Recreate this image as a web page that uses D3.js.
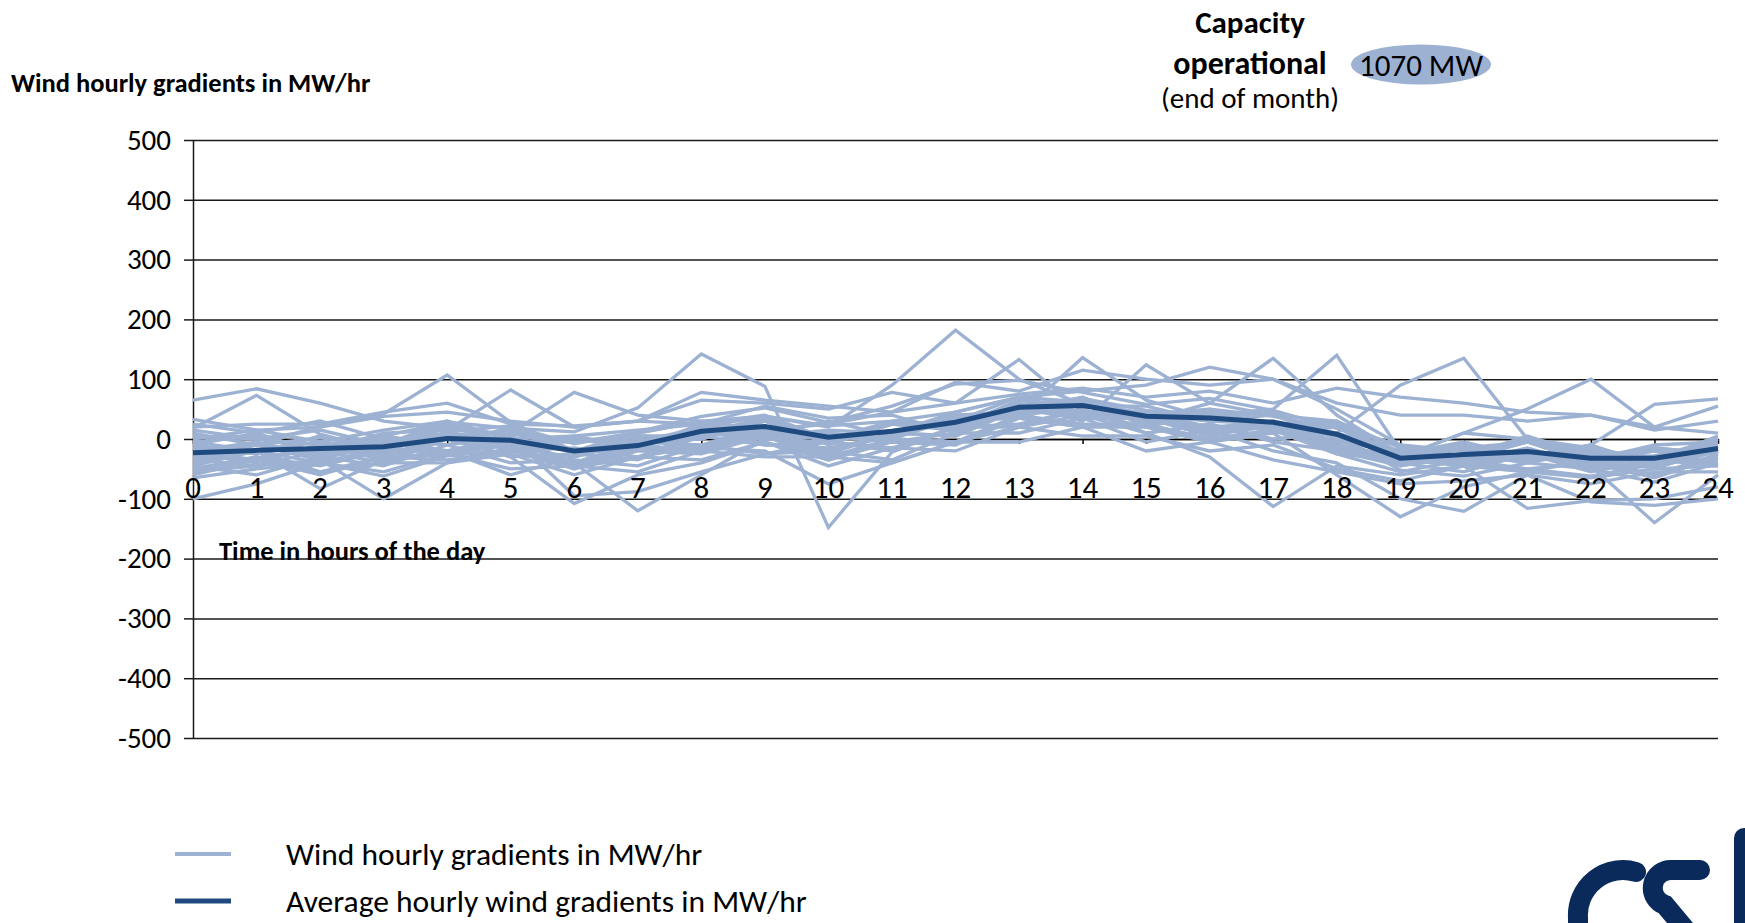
<!DOCTYPE html>
<html>
<head>
<meta charset="utf-8">
<script src="https://cdn.jsdelivr.net/npm/d3@7"></script>
<style>
  body { margin: 0; background: #fff; }
  svg text { font-family: Carlito, Calibri, Lato, sans-serif; fill: #000; }
</style>
</head>
<body>
<svg id="chart" width="1745" height="923"></svg>
<script>
// Hours of the day (x categories) and y tick values
const hours = [0, 1, 2, 3, 4, 5, 6, 7, 8, 9, 10, 11, 12, 13, 14, 15, 16, 17, 18, 19, 20, 21, 22, 23, 24];
const yTicks = [-500, -400, -300, -200, -100, 0, 100, 200, 300, 400, 500];

// One row per day of the month, MW/hr at hours 0..24
const dailyGradients = [
  [65, 84, 60, 30, 18, 8, -5, 10, 30, 38, 22, 30, 45, 70, 62, 42, 50, 38, 18, -12, -30, -22, -40, -28, -8],
  [18, 73, 8, -20, 12, 22, -8, 12, 38, 52, 28, 55, 92, 98, 78, 58, 68, 48, 18, -22, -42, -50, -62, -42, -22],
  [-100, -75, -40, -62, -28, -18, -48, -30, -12, 5, -18, 8, 28, 58, 68, 48, 38, 28, 8, -52, -62, -40, -50, -72, -40],
  [10, -10, 22, 42, 107, 28, -20, -5, 10, 35, 0, 25, 30, 70, 45, 45, 20, 28, -10, -35, -30, -20, -50, -40, -35],
  [-30, -10, -20, 10, 15, 82, 20, 30, 25, 55, 35, 40, 10, 55, 45, 40, 10, 20, -20, -25, -30, 0, -35, -10, -5],
  [-40, -20, -55, -30, -25, 10, 78, 40, 30, -10, -15, 5, 40, 45, 65, 30, 40, 10, 20, -30, 10, 0, -15, -35, 0],
  [5, 0, -10, 5, 28, 18, 12, 52, 142, 88, -148, -22, 20, 42, 48, 30, 38, 25, 5, -30, -15, -5, -25, -32, -12],
  [-20, -10, 2, -10, 10, 0, -18, -5, 20, 38, 20, 90, 182, 100, 58, 40, 30, 25, 20, -10, -20, -30, -40, -48, -20],
  [-25, -40, -10, -30, 5, -15, -30, 0, -15, -20, -75, -40, -5, 20, 40, 10, 25, -5, -20, -45, -25, -40, -20, -50, -15],
  [-10, 10, -25, 5, -10, 20, -20, 10, 30, 15, 25, 45, 60, 133, 45, 20, 45, 25, 30, -15, -35, -5, -40, -15, -25],
  [-35, -10, -35, -5, -20, 5, -40, -10, 15, 5, 10, 0, 35, 40, 136, 65, 35, 45, 0, -45, -30, -35, -25, -40, -5],
  [0, 15, -5, 15, 30, 0, 5, 15, 25, 40, 0, 30, 20, 60, 30, 124, 60, 40, 30, -35, -15, -30, -10, -45, -20],
  [-15, -25, 5, -20, 25, -10, 0, -15, 20, 5, 15, 10, 45, 70, 80, 90, 120, 100, 50, -10, -30, 5, -30, -15, -25],
  [-20, -5, -30, 0, 0, 15, -25, 5, 5, 35, -10, 25, 15, 50, 70, 30, 60, 135, 40, -25, -10, -35, -25, -45, -10],
  [-45, -20, -40, -15, -25, 0, -45, -10, -20, 15, -20, 5, 30, 35, 65, 25, 40, 50, 140, -20, -45, -25, -55, -35, -40],
  [-30, -35, -15, -30, 10, -20, -15, -30, 10, 0, 5, -5, 10, 55, 40, 45, 15, 30, 10, 90, 135, 0, -20, -30, 0],
  [-5, -20, -5, -25, 20, -5, -5, 5, 0, 30, -5, 25, 25, 40, 70, 20, 45, 15, 20, -30, 10, 50, 100, 20, 10],
  [-50, -30, -45, -20, -20, -5, -40, -5, -10, 20, -20, 10, 5, 50, 35, 35, 5, 25, -15, -40, -55, -25, -45, -140, -60],
  [-10, -25, 5, -15, 25, -10, 5, -15, 25, 10, 30, 5, 40, 45, 65, 25, 50, 20, 25, -40, -15, -30, -10, 58, 67],
  [-35, -45, -20, -40, 0, -30, -25, -35, 5, -10, -5, -20, 20, 25, 50, 10, -30, -113, -45, -60, -45, -55, -35, -60, -25],
  [-60, -35, -60, -30, -35, -20, -50, -20, -25, 5, -35, 0, -5, 35, 20, 20, -5, 10, -60, -130, -80, -55, -65, -50, -45],
  [-45, -60, -30, -45, -10, -40, -35, -45, -10, -25, -20, -35, 10, 10, 35, -5, 15, -20, -40, -100, -121, -60, -75, -55, -55],
  [-55, -30, -55, -40, -40, -25, -60, -30, -35, -5, -45, -15, -20, 20, 5, 5, -20, -10, -50, -70, -45, -116, -103, -100, -80],
  [-65, -50, -40, -55, -25, -50, -45, -55, -20, -30, -30, -40, -5, -5, 20, -20, -5, -35, -55, -75, -70, -60, -105, -111, -100],
  [-20, -35, -10, -35, 5, -30, -108, -60, -40, -5, -35, -5, -10, 35, 20, 25, 0, 15, -25, -35, -45, -20, -50, -35, -45],
  [-5, 5, -25, 0, -10, 5, -95, -88, -55, -25, -5, -15, 20, 20, 50, 10, 25, 0, 10, -20, -30, -5, -35, -20, -25],
  [15, 0, 15, -10, 30, 0, -40, -120, -60, 0, -5, 25, 20, 65, 55, 55, 30, 40, 0, -25, -5, -30, -20, -35, 5],
  [-55, -45, -35, -100, -40, -15, -45, -15, -20, 10, -30, 0, -5, 40, 25, 25, 0, 15, -25, -55, -35, -50, -40, -65, -30],
  [-30, -20, -83, -35, -25, -10, -50, -15, -15, 15, -25, 10, 5, 50, 35, 35, 10, 25, -10, -30, -40, -15, -45, -30, -35],
  [25, 10, 30, 0, -20, -60, -30, -5, 0, 30, -5, 25, 15, 55, 40, 40, 15, 30, -5, -20, -30, -5, -40, -20, -25],
  [33, 15, 20, 38, 45, 30, 20, 30, 65, 60, 50, 78, 60, 75, 85, 70, 80, 60, 85, 70, 60, 45, 40, 20, 55],
  [20, 25, 25, 45, 60, 25, 22, 30, 78, 65, 55, 45, 95, 80, 115, 100, 90, 100, 60, 40, 40, 30, 40, 15, 30]
];

// Monthly average gradient per hour
const averageGradient = [-23, -19, -16, -13, 1, -2, -20, -11, 13, 21, 3, 13, 28, 53, 56, 38, 35, 28, 8, -32, -26, -21, -32, -32, -16];

const legendLabels = ["Wind hourly gradients in MW/hr", "Average hourly wind gradients in MW/hr"];
const capacityText = "1070 MW";

// Colours
const lightBlue = "#9db2d2";
const darkBlue = "#1f4a7f";
const logoBlue = "#0b2a5c";

const svg = d3.select("#chart");

const plotLeft = 193, plotRight = 1718, plotTop = 140, plotBottom = 738;
const x = d3.scaleLinear().domain([0, 24]).range([plotLeft, plotRight]);
const y = d3.scaleLinear().domain([-500, 500]).range([plotBottom, plotTop]);

// Gridlines
svg.append("g")
  .attr("transform", `translate(${plotLeft},0)`)
  .call(d3.axisLeft(y).tickValues(yTicks).tickSize(-(plotRight - plotLeft)).tickFormat(""))
  .call(g => g.select(".domain").remove())
  .call(g => g.selectAll(".tick line").attr("stroke", "#1a1a1a").attr("stroke-width", 1.5));

// Y axis with labels
svg.append("g")
  .attr("transform", `translate(${plotLeft},0)`)
  .call(d3.axisLeft(y).tickValues(yTicks).tickSize(9).tickPadding(13).tickSizeOuter(0)
    .tickFormat(d => String(d)))
  .call(g => g.select(".domain").attr("stroke", "#1a1a1a").attr("stroke-width", 1.5))
  .call(g => g.selectAll(".tick line").attr("stroke", "#1a1a1a").attr("stroke-width", 1.5))
  .call(g => g.selectAll(".tick text")
    .attr("font-size", 29)
    .style("font-family", "Carlito, Calibri, Lato, sans-serif")
    .attr("fill", "#000"));

// X axis line at zero with small ticks
svg.append("g")
  .attr("transform", `translate(0,${y(0)})`)
  .call(d3.axisBottom(x).tickValues(hours).tickSize(5).tickFormat("").tickSizeOuter(0))
  .call(g => g.select(".domain").attr("stroke", "#000").attr("stroke-width", 1.5))
  .call(g => g.selectAll(".tick line").attr("stroke", "#000").attr("stroke-width", 1.5));

// Daily lines
const line = d3.line()
  .x((d, i) => x(hours[i]))
  .y(d => y(d));

svg.append("g")
  .selectAll("path")
  .data(dailyGradients)
  .join("path")
  .attr("d", line)
  .attr("fill", "none")
  .attr("stroke", lightBlue)
  .attr("stroke-width", 3.3)
  .attr("stroke-linejoin", "miter");

// Average line
svg.append("path")
  .datum(averageGradient)
  .attr("d", line)
  .attr("fill", "none")
  .attr("stroke", darkBlue)
  .attr("stroke-width", 5);

// Hour labels sit just above the -100 gridline
svg.append("g")
  .selectAll("text")
  .data(hours)
  .join("text")
  .attr("x", d => x(d))
  .attr("y", y(-100) - 1)
  .attr("text-anchor", "middle")
  .attr("font-size", 31)
  .text(d => d);

// Axis titles
svg.append("text")
  .attr("x", 11)
  .attr("y", 92)
  .attr("font-size", 26.5)
  .attr("font-weight", "bold")
  .text("Wind hourly gradients in MW/hr");

svg.append("text")
  .attr("x", 219)
  .attr("y", 560)
  .attr("font-size", 26.5)
  .attr("font-weight", "bold")
  .text("Time in hours of the day");

// Capacity note
const capX = 1250;
svg.append("text").attr("x", capX).attr("y", 33).attr("text-anchor", "middle")
  .attr("font-size", 31).attr("font-weight", "bold").text("Capacity");
svg.append("text").attr("x", capX).attr("y", 74).attr("text-anchor", "middle")
  .attr("font-size", 32).attr("font-weight", "bold").text("operational");
svg.append("text").attr("x", capX).attr("y", 108).attr("text-anchor", "middle")
  .attr("font-size", 29).text("(end of month)");

svg.append("ellipse")
  .attr("cx", 1421).attr("cy", 64.5).attr("rx", 70).attr("ry", 20)
  .attr("fill", lightBlue);
svg.append("text").attr("x", 1421).attr("y", 75.5).attr("text-anchor", "middle")
  .attr("font-size", 31).text(capacityText);

// Legend
const legend = svg.append("g");
const legendStyles = [
  { color: lightBlue, width: 4, y: 854 },
  { color: darkBlue, width: 5, y: 901 }
];
legendStyles.forEach((s, i) => {
  legend.append("line")
    .attr("x1", 175).attr("x2", 231)
    .attr("y1", s.y).attr("y2", s.y)
    .attr("stroke", s.color).attr("stroke-width", s.width);
  legend.append("text")
    .attr("x", 286).attr("y", s.y + 11)
    .attr("font-size", 31.5)
    .text(legendLabels[i]);
});

// Logo fragment bottom right
const logo = svg.append("g")
  .attr("fill", "none")
  .attr("stroke", logoBlue)
  .attr("stroke-width", 20)
  .attr("stroke-linecap", "round");
logo.append("path")
  .attr("d", "M1636,872 A45,45 0 0 0 1578,918 L1578,940");
logo.append("path")
  .attr("d", "M1700,870 L1672,870 A18,18 0 0 0 1665,905 L1690,935");
logo.append("path")
  .attr("d", "M1744,838 L1744,940");
</script>
</body>
</html>
